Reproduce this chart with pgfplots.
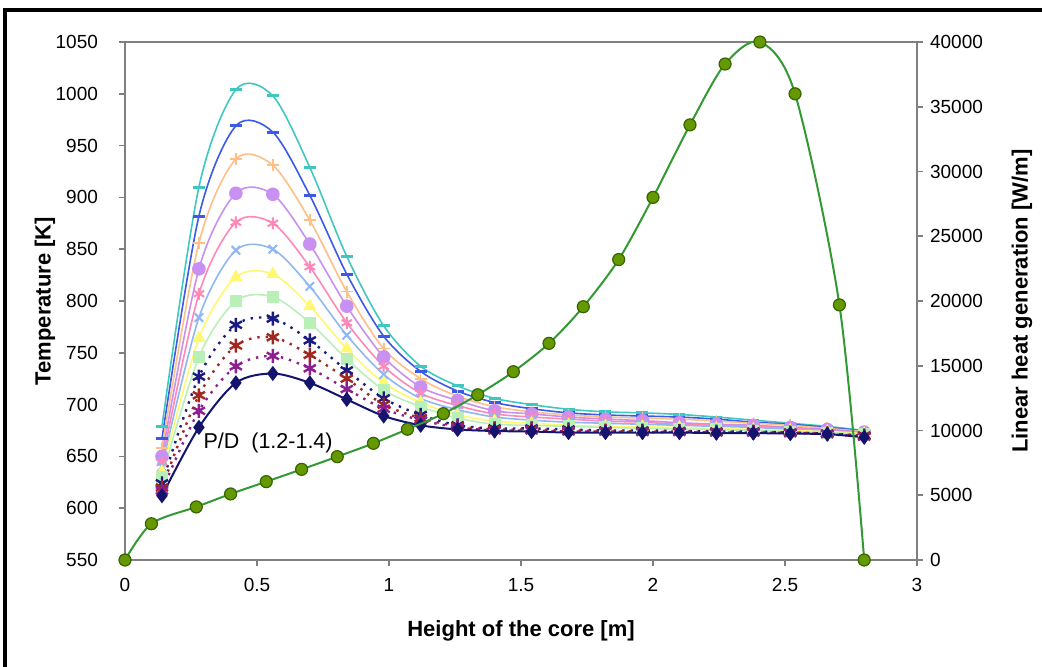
\documentclass[border=0pt]{standalone}
\usepackage{pgfplots}
\usepackage{pgfplotstable}
\pgfplotsset{compat=1.18}
\usepackage{fontspec}
\setmainfont{Liberation Sans}

\definecolor{cturq}{HTML}{40C8C0}
\definecolor{cblue}{HTML}{3C5AE6}
\definecolor{corange}{HTML}{FFC088}
\definecolor{cviolet}{HTML}{C890F0}
\definecolor{cpink}{HTML}{FF88B8}
\definecolor{clblue}{HTML}{90B8F0}
\definecolor{cyellow}{HTML}{FFF870}
\definecolor{cgreen}{HTML}{B8F0B8}
\definecolor{cnavy}{HTML}{1A1A80}
\definecolor{cred}{HTML}{A02820}
\definecolor{cpurple}{HTML}{8C2090}
\definecolor{cdiam}{HTML}{14146E}
\definecolor{qline}{HTML}{339933}
\definecolor{qfill}{HTML}{669900}
\definecolor{qedge}{HTML}{336600}
\definecolor{axgray}{HTML}{808080}

\pgfplotstableread{
x    t1    t2   t3   t4    t5   t6    t7    t8    t9   t10   t11   t12
0.14 679   667  658  650   644  640   635   630   624  620   617   612
0.28 910   882  856  831   807  784   764   746   727  709   694   678
0.42 1004  969  937  904   876  849   823   800   777  757   737   721
0.56 998   963  931  903   875  850   826   804   783  765   747   730
0.70 929   902  878  855   833  814   795   779   762  748   735   721
0.84 843   826  809  795   779  767   754   744   733  725   715   705
0.98 776   766  754  746   737  729   721   714   706  700   696   689
1.12 737   732  725  717   711  706   702   698   690  687   685   680
1.26 718   713  708  704   699  695   690   687   680  679   678   676
1.40 706   702  698  694   691  688   684   681   677  676   675   674.5
1.54 700   696  693  691   688  685   682   680   677  676   675   674
1.68 695.5 692  690  688   686  683   680   679   676  675   674   673
1.82 693   690  688  686   684  682   679   678   675  674.5 674   673
1.96 692   689  687  684.5 683  681   678.5 677   675  674   673.5 673
2.10 690.5 688  686  682.5 681  680   678   676.5 674.5 674 673.5 673
2.24 688   686  684  681   680  679   677   676   674  673.5 673   672.5
2.38 685   683  682  680   679  678   676   675   674  673.5 673   672.5
2.52 682   681  680  678   677  676   675   674   673  673   672.5 672
2.66 679   678  677  676   675  674.5 674   673   672  672   671.5 671.5
2.80 675   674.5 674 673.5 673  672.5 672   671.5 670  670   669   668.5
}\temps

\pgfplotstableread{
x     q
0     0
0.10  2800
0.27  4100
0.40  5100
0.535 6050
0.669 7000
0.804 7980
0.941 9010
1.07  10100
1.206 11300
1.336 12760
1.471 14540
1.606 16730
1.736 19560
1.87  23200
2.0   28000
2.14  33600
2.273 38300
2.405 40000
2.538 36000
2.706 19700
2.80  0
}\heat

\begin{document}
\begin{tikzpicture}
\useasboundingbox (0,0) rectangle (521pt,-333.5pt);
\fill[white] (0,0) rectangle (521pt,-333.5pt);
\draw[line width=2pt,black] (2.5pt,-5pt) rectangle (540pt,-350pt);

\begin{axis}[
  at={(62.5pt,-280pt)}, anchor=south west,
  width=396pt, height=259pt, scale only axis,
  xmin=0, xmax=3, ymin=550, ymax=1050,
  xtick={0,0.5,1,1.5,2,2.5,3},
  ytick={550,600,...,1050},
  xtick pos=lower, ytick pos=left,
  tick align=outside, major tick length=3pt,
  axis line style={axgray, line width=0.8pt},
  tick style={axgray, line width=0.8pt},
  /pgf/number format/assume math mode=true,
  /pgf/number format/1000 sep={},
  ticklabel style={font=\fontsize{9.5}{11}\selectfont},
  yticklabel style={xshift=-7pt},
  xticklabel style={yshift=-2.5pt},
  clip=false,
  every axis plot/.append style={smooth, line width=0.8pt},
]
\addplot[cturq, mark=-, mark size=3pt, mark options={line width=1.5pt}] table[y=t1]{\temps};
\addplot[cblue, mark=-, mark size=3pt, mark options={line width=1.5pt}] table[y=t2]{\temps};
\addplot[corange, mark=+, mark size=3pt] table[y=t3]{\temps};
\addplot[cviolet, mark=*, mark size=3pt] table[y=t4]{\temps};
\addplot[cpink, mark=asterisk, mark size=3pt, mark options={line width=1pt}] table[y=t5]{\temps};
\addplot[clblue, mark=x, mark size=3pt, mark options={line width=1pt}] table[y=t6]{\temps};
\addplot[cyellow, mark=triangle*, mark size=3pt] table[y=t7]{\temps};
\addplot[cgreen, mark=square*, mark size=2.6pt] table[y=t8]{\temps};
\addplot[cnavy, line width=1.2pt, dash pattern=on 1.2pt off 3pt, mark=asterisk, mark size=3.5pt, mark options={solid, line width=1.2pt}] table[y=t9]{\temps};
\addplot[cred, line width=1.2pt, dash pattern=on 1.2pt off 3pt, mark=asterisk, mark size=3.5pt, mark options={solid, line width=1.2pt}] table[y=t10]{\temps};
\addplot[cpurple, line width=1.2pt, dash pattern=on 1.2pt off 3pt, mark=asterisk, mark size=3.5pt, mark options={solid, line width=1.2pt}] table[y=t11]{\temps};
\addplot[cdiam, line width=1pt, mark=diamond*, mark size=3pt] table[y=t12]{\temps};
\node[font=\fontsize{10.75}{12}\selectfont] at (axis cs:0.542,663) {P/D\ \ (1.2-1.4)};
\end{axis}

\begin{axis}[
  at={(62.5pt,-280pt)}, anchor=south west,
  width=396pt, height=259pt, scale only axis,
  xmin=0, xmax=3, ymin=0, ymax=40000,
  axis x line=none, axis y line*=right,
  ytick={0,5000,...,40000},
  scaled y ticks=false,
  /pgf/number format/1000 sep={},
  tick align=outside, major tick length=3pt,
  axis line style={axgray, line width=0.8pt},
  tick style={axgray, line width=0.8pt},
  /pgf/number format/assume math mode=true,
  ticklabel style={font=\fontsize{9.5}{11}\selectfont},
  clip=false,
]
\addplot[qline, line width=1pt, smooth, mark=*, mark size=3pt, mark options={fill=qfill, draw=qedge, line width=0.6pt}] table[y=q]{\heat};
\end{axis}

\node[rotate=90, font=\bfseries\fontsize{11}{13}\selectfont] at (22.5pt,-150.5pt) {Temperature [K]};
\node[font=\bfseries\fontsize{11}{13}\selectfont] at (260.5pt,-315.5pt) {Height of the core [m]};
\node[rotate=90, font=\bfseries\fontsize{11}{13}\selectfont] at (511pt,-150.5pt) {Linear heat generation [W/m]};
\end{tikzpicture}
\end{document}
